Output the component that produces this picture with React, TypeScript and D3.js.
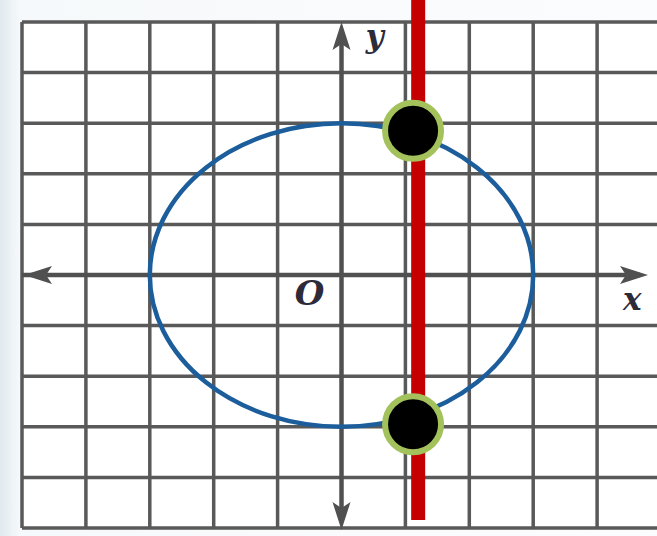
import React, { useRef, useEffect } from 'react';
import * as d3 from 'd3';

// grid extent in graph units
const gridTicks = [-5, -4, -3, -2, -1, 0, 1, 2, 3, 4, 5];
// circle x^2 + y^2 = r^2
const circleRadius = 3;
// vertical line x = k
const lineX = 1.2;
// intersection points
const pointsX = [1.12, 1.12];
const pointsY = [2.85, -2.95];
// axis labels
const labels = [
    { text: 'y', x: 0.52, y: 4.5, size: 31 },
    { text: 'O', x: -0.5, y: -0.6, size: 34 },
    { text: 'x', x: 4.55, y: -0.7, size: 31 },
];

export default function App() {
    const svgRef = useRef(null);

    useEffect(() => {
        document.body.style.margin = '0';
        const width = 657;
        const height = 536;

        const svg = d3.select(svgRef.current)
            .attr('width', width)
            .attr('height', height);
        svg.selectAll('*').remove();

        const xScale = d3.scaleLinear().domain([-5, 5]).range([22, 661]);
        const yScale = d3.scaleLinear().domain([5, -5]).range([22, 528]);

        // background with faint blue tint at the left edge
        const defs = svg.append('defs');
        const grad = defs.append('linearGradient').attr('id', 'bg').attr('x1', 0).attr('x2', 1);
        grad.append('stop').attr('offset', '0%').attr('stop-color', '#dfe9ee');
        grad.append('stop').attr('offset', '3%').attr('stop-color', '#f6f9fb');
        grad.append('stop').attr('offset', '100%').attr('stop-color', '#fbfcfd');
        svg.append('rect').attr('width', width).attr('height', height).attr('fill', 'url(#bg)');
        svg.append('rect')
            .attr('x', xScale(-5)).attr('y', yScale(5))
            .attr('width', width - xScale(-5)).attr('height', yScale(-5) - yScale(5))
            .attr('fill', '#ffffff');

        // grid
        const grid = svg.append('g').attr('stroke', '#595959').attr('stroke-width', 3.5);
        grid.selectAll('.v').data(gridTicks.filter(d => d !== 0)).enter().append('line')
            .attr('x1', d => xScale(d)).attr('x2', d => xScale(d))
            .attr('y1', yScale(5)).attr('y2', yScale(-5));
        grid.selectAll('.h').data(gridTicks.filter(d => d !== 0)).enter().append('line')
            .attr('x1', xScale(-5)).attr('x2', xScale(5))
            .attr('y1', d => yScale(d)).attr('y2', d => yScale(d));

        // axes with arrows
        const axisColor = '#505050';
        const axes = svg.append('g');
        axes.append('line')
            .attr('x1', xScale(-5)).attr('x2', 640)
            .attr('y1', yScale(0)).attr('y2', yScale(0))
            .attr('stroke', axisColor).attr('stroke-width', 4.5);
        axes.append('line')
            .attr('x1', xScale(0)).attr('x2', xScale(0))
            .attr('y1', 30).attr('y2', 522)
            .attr('stroke', axisColor).attr('stroke-width', 4.5);

        const arrow = (tipX, tipY, dx, dy) => {
            // dx, dy: unit direction pointing towards the tip
            const len = 28, half = 9;
            const bx = tipX - dx * len, by = tipY - dy * len;
            const px = -dy, py = dx;
            const nx = tipX - dx * (len - 6), ny = tipY - dy * (len - 6);
            return `M${tipX},${tipY}L${bx + px * half},${by + py * half}L${nx},${ny}L${bx - px * half},${by - py * half}Z`;
        };
        axes.append('path').attr('d', arrow(648, yScale(0), 1, 0)).attr('fill', axisColor);
        axes.append('path').attr('d', arrow(24, yScale(0), -1, 0)).attr('fill', axisColor);
        axes.append('path').attr('d', arrow(xScale(0), 22, 0, -1)).attr('fill', axisColor);
        axes.append('path').attr('d', arrow(xScale(0), 530, 0, 1)).attr('fill', axisColor);

        // circle
        svg.append('ellipse')
            .attr('cx', xScale(0)).attr('cy', yScale(0))
            .attr('rx', xScale(circleRadius) - xScale(0))
            .attr('ry', yScale(0) - yScale(circleRadius))
            .attr('fill', 'none')
            .attr('stroke', '#1c5d9c')
            .attr('stroke-width', 4.5);

        // vertical line
        svg.append('line')
            .attr('x1', xScale(lineX)).attr('x2', xScale(lineX))
            .attr('y1', 0).attr('y2', 520)
            .attr('stroke', '#c40000')
            .attr('stroke-width', 14);

        // intersection points
        svg.selectAll('.pt').data(pointsX.map((x, i) => ({ x, y: pointsY[i] }))).enter()
            .append('circle')
            .attr('cx', d => xScale(d.x)).attr('cy', d => yScale(d.y))
            .attr('r', 28)
            .attr('fill', '#000')
            .attr('stroke', '#a3c25c')
            .attr('stroke-width', 6);

        // labels
        svg.selectAll('.lbl').data(labels).enter().append('text')
            .attr('x', d => xScale(d.x)).attr('y', d => yScale(d.y))
            .attr('text-anchor', 'middle')
            .attr('font-family', 'DejaVu Serif, serif')
            .attr('font-style', 'italic')
            .attr('font-weight', 'bold')
            .attr('font-size', d => d.size)
            .attr('fill', '#2d2a3a')
            .text(d => d.text);

        return () => {
            d3.select(svgRef.current).selectAll('*').remove();
        };
    }, []);

    return (
        <svg ref={svgRef} style={{ display: 'block' }}></svg>
    );
}
